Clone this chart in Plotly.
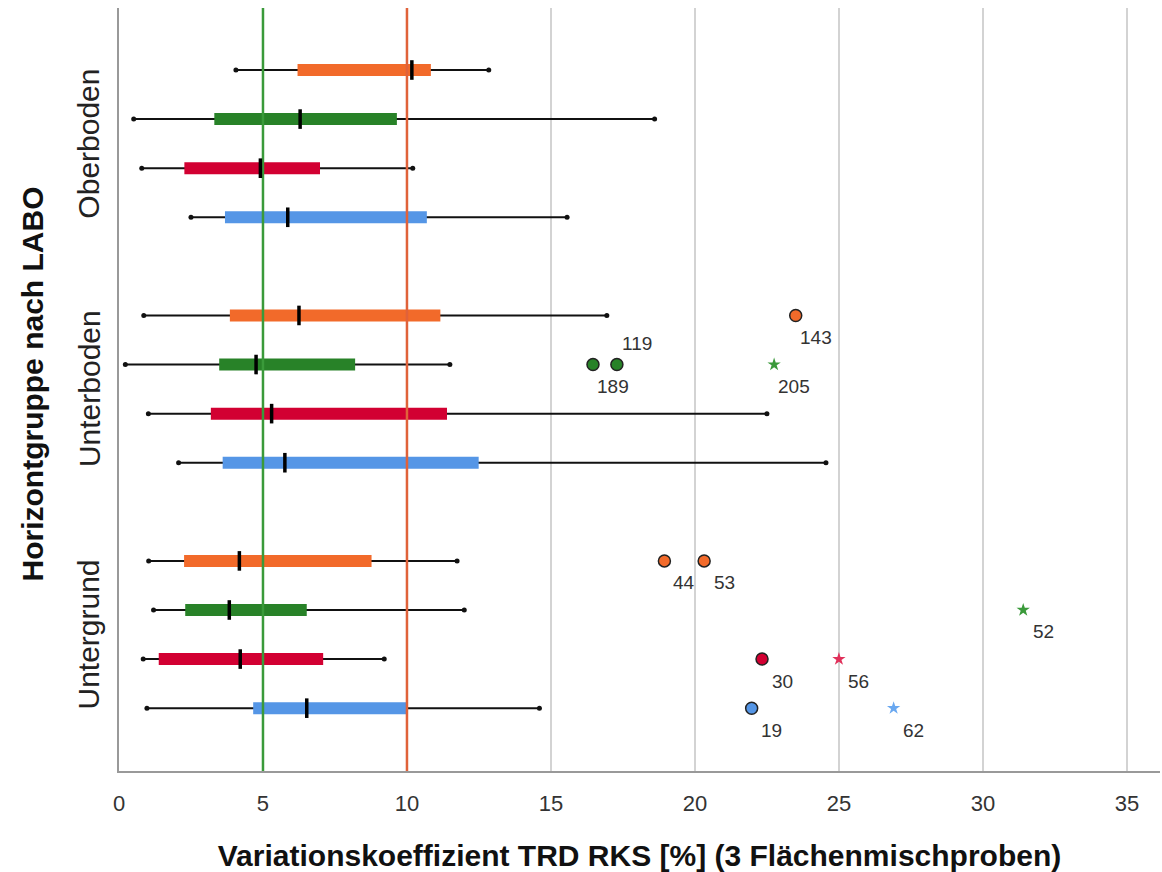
import plotly.graph_objects as go

# ---------------- data ----------------
groups = ["Oberboden", "Unterboden", "Untergrund"]
series_colors = ["#F26A2A", "#288228", "#D20032", "#5596E6"]
star_colors = ["#F26A2A", "#3A9A3A", "#E0305A", "#6AA8F0"]

# 12 rows: group-major, 4 series per group (orange, green, red, blue)
row_group = [0, 0, 0, 0, 1, 1, 1, 1, 2, 2, 2, 2]
row_series = [0, 1, 2, 3, 0, 1, 2, 3, 0, 1, 2, 3]
mins    = [4.06, 0.51, 0.79, 2.50, 0.86, 0.22, 1.02, 2.07, 1.03, 1.20, 0.84, 0.97]
q1s     = [6.20, 3.31, 2.27, 3.68, 3.85, 3.48, 3.19, 3.60, 2.26, 2.30, 1.38, 4.66]
medians = [10.17, 6.29, 4.91, 5.86, 6.25, 4.76, 5.30, 5.76, 4.18, 3.83, 4.21, 6.52]
q3s     = [10.83, 9.65, 6.98, 10.69, 11.16, 8.20, 11.39, 12.49, 8.77, 6.52, 7.09, 9.97]
maxs    = [12.84, 18.60, 10.20, 15.56, 16.94, 11.49, 22.50, 24.55, 11.74, 11.99, 9.21, 14.60]

# outliers
out_row   = [4, 5, 5, 5, 8, 8, 9, 10, 10, 11, 11]
out_x     = [23.50, 16.46, 17.29, 22.75, 18.94, 20.32, 31.40, 22.33, 25.00, 21.97, 26.90]
out_label = ["143", "189", "119", "205", "44", "53", "52", "30", "56", "19", "62"]
out_kind  = ["o", "o", "o", "*", "o", "o", "*", "o", "*", "o", "*"]
out_label_up = [False, False, True, False, False, False, False, False, False, False, False]

x_ticks = [0, 5, 10, 15, 20, 25, 30, 35]
ref_lines = [5, 10]
ref_colors = ["#3A9A3A", "#E0623A"]

x_title = "Variationskoeffizient TRD RKS [%] (3 Flächenmischproben)"
y_title = "Horizontgruppe nach LABO"

FONT = "Liberation Sans, Arial, sans-serif"

# ---------------- layout helpers ----------------
def ypos(i):
    return row_group[i] * 5 + row_series[i]

fig = go.Figure()

for i in range(len(mins)):
    y = ypos(i)
    col = series_colors[row_series[i]]
    # whisker
    fig.add_trace(go.Scatter(x=[mins[i], maxs[i]], y=[y, y], mode="lines+markers",
                             line=dict(color="#111111", width=2),
                             marker=dict(size=5, color="#111111"),
                             hoverinfo="skip", showlegend=False))
    # box
    fig.add_trace(go.Scatter(x=[q1s[i], q3s[i]], y=[y, y], mode="lines",
                             line=dict(color=col, width=12),
                             hoverinfo="skip", showlegend=False))

# reference lines (above boxes)
for xv, c in zip(ref_lines, ref_colors):
    fig.add_trace(go.Scatter(x=[xv, xv], y=[-1.3, 14.3], mode="lines",
                             line=dict(color=c, width=2.5),
                             hoverinfo="skip", showlegend=False))

# medians
fig.add_trace(go.Scatter(x=medians, y=[ypos(i) for i in range(len(medians))], mode="markers",
                         marker=dict(symbol="line-ns", size=14,
                                     line=dict(color="#000000", width=3.5)),
                         hoverinfo="skip", showlegend=False))

# outliers
for xv, r, lab, kind, up in zip(out_x, out_row, out_label, out_kind, out_label_up):
    y = ypos(r)
    if kind == "o":
        fig.add_trace(go.Scatter(x=[xv], y=[y], mode="markers",
                                 marker=dict(symbol="circle", size=12,
                                             color=series_colors[row_series[r]],
                                             line=dict(color="#222222", width=1.5)),
                                 hoverinfo="skip", showlegend=False))
    else:
        fig.add_trace(go.Scatter(x=[xv], y=[y], mode="markers",
                                 marker=dict(symbol="star", size=10,
                                             color=star_colors[row_series[r]],
                                             line=dict(width=0)),
                                 hoverinfo="skip", showlegend=False))
    fig.add_annotation(x=xv, y=y, xref="x", yref="y", text=lab, showarrow=False,
                       xshift=20, yshift=(21 if up else -22),
                       font=dict(family=FONT, size=19, color="#333333"))

# group labels
for g, name in enumerate(groups):
    fig.add_annotation(x=0, y=g * 5 + 1.5, xref="paper", yref="y", text=name,
                       textangle=-90, showarrow=False, xanchor="center", yanchor="middle",
                       xshift=-30,
                       font=dict(family=FONT, size=30, color="#222222"))

fig.add_annotation(x=0, y=0.5, xref="paper", yref="paper", text="<b>" + y_title + "</b>",
                   textangle=-90, showarrow=False, xanchor="center", yanchor="middle",
                   xshift=-87, yshift=5,
                   font=dict(family=FONT, size=30, color="#111111"))

fig.update_layout(
    width=1162, height=872,
    margin=dict(l=119, r=2, t=8, b=101),
    paper_bgcolor="white", plot_bgcolor="white",
    xaxis=dict(range=[0, 36.15], tickvals=x_ticks, ticktext=[str(t) for t in x_ticks],
               showgrid=True, gridcolor="#D3D3D3", gridwidth=2,
               zeroline=False, showline=True, linecolor="#999999", linewidth=2,
               ticks="", tickfont=dict(family=FONT, size=22, color="#333333"),
               ticklabelstandoff=12,
               title=dict(text="<b>" + x_title + "</b>", standoff=33,
                          font=dict(family=FONT, size=30, color="#111111"))),
    yaxis=dict(range=[14.28, -1.263], showgrid=False, zeroline=False,
               showline=True, linecolor="#999999", linewidth=2,
               showticklabels=False, ticks=""),
)

fig.write_html("out.html")
